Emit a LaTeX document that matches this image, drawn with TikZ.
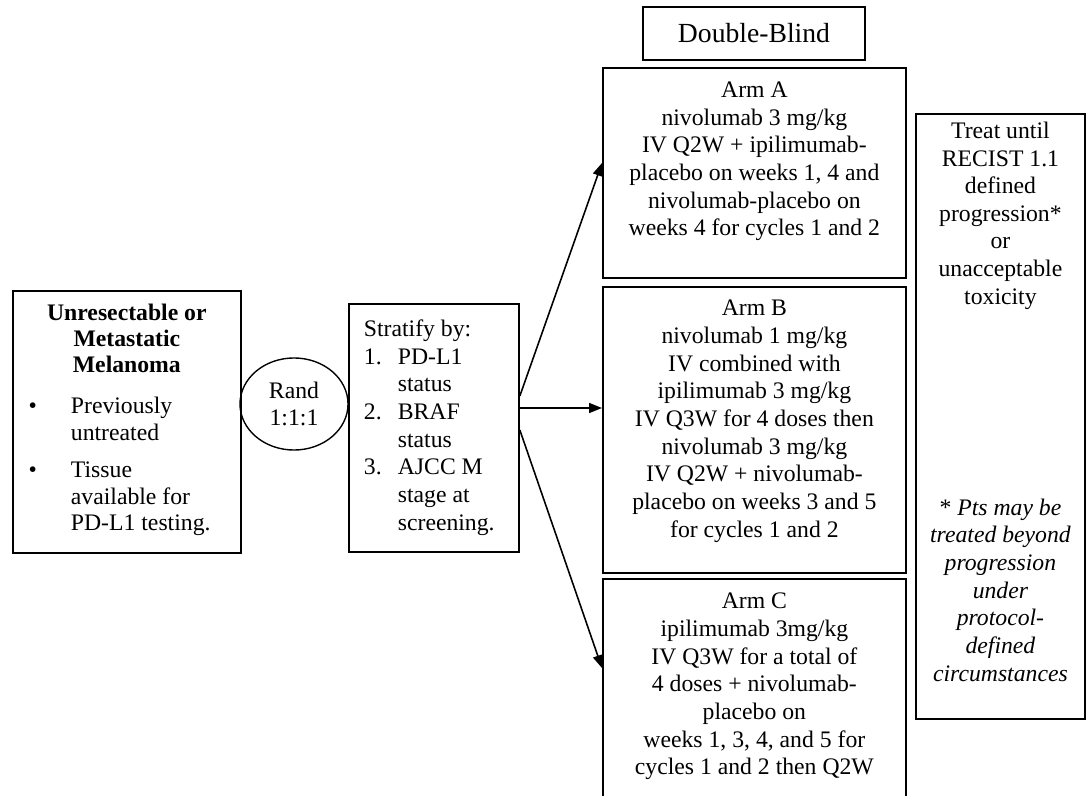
\documentclass[tikz,border=0pt]{standalone}
\usepackage{fontspec}
\setmainfont{Liberation Serif}
\usetikzlibrary{shapes.geometric, arrows.meta, positioning}

\begin{document}
\begin{tikzpicture}[
  x=0.5063pt, y=-0.5063pt,
  every node/.style={font=\fontsize{12}{14}\selectfont},
  frame/.style={draw, line width=0.9pt, anchor=north west, inner sep=0pt},
  arr/.style={line width=0.8pt, -{Triangle[length=6.5pt, width=5pt]}}
]
  \useasboundingbox (0,0) rectangle (1086,796);

  % patients, randomisation, stratification
  \node[frame, font=\fontsize{12}{13.3}\selectfont] (pop) at (12,290) {\parbox[t][132.7pt][t]{115.4pt}{\centering
    \rule{0pt}{14.9pt}\textbf{Unresectable or}\\ \textbf{Metastatic}\\ \textbf{Melanoma}\par
    \vspace{7.5pt}\raggedright
    \hspace*{8pt}\makebox[21.4pt][l]{\textbullet}Previously\\ \hspace*{29.4pt}untreated\par
    \vspace{5.7pt}
    \hspace*{8pt}\makebox[21.4pt][l]{\textbullet}Tissue\\ \hspace*{29.4pt}available for\\ \hspace*{29.4pt}PD-L1 testing.}};
  \node[draw, ellipse, line width=0.7pt, minimum width=54.7pt, minimum height=46.6pt, inner sep=0pt, align=center,
    font=\fontsize{12}{13.5}\selectfont] (rand) at (294,404) {Rand\\ 1:1:1};
  \node[frame] (strat) at (348,303) {\parbox[t][125.6pt][t]{86.1pt}{\raggedright\leftskip=7.6pt
    \rule{0pt}{16.5pt}Stratify by:\\
    \makebox[17.2pt][l]{1.}PD-L1\\ \hspace*{17.2pt}status\\
    \makebox[17.2pt][l]{2.}BRAF\\ \hspace*{17.2pt}status\\
    \makebox[17.2pt][l]{3.}AJCC M\\ \hspace*{17.2pt}stage at\\ \hspace*{17.2pt}screening.}};

  % treatment arms
  \node[draw, line width=0.9pt, minimum width=112.4pt, minimum height=26.8pt, inner sep=0pt,
    font=\fontsize{14}{16}\selectfont] (blind) at (754,33.5) {Double-Blind};
  \node[frame] (armA) at (602,67) {\parbox[t][106.3pt][t]{153.4pt}{\centering
    \rule{0pt}{15pt}Arm A\\ nivolumab 3 mg/kg\\ IV Q2W + ipilimumab-\\ placebo on weeks 1, 4 and\\
    nivolumab-placebo on\\ weeks 4 for cycles 1 and 2}};
  \node[frame] (armB) at (602,286) {\parbox[t][144.8pt][t]{153.4pt}{\centering
    \rule{0pt}{14.7pt}Arm B\\ nivolumab 1 mg/kg\\ IV combined with\\ ipilimumab 3 mg/kg\\
    IV Q3W for 4 doses then\\ nivolumab 3 mg/kg\\ IV Q2W + nivolumab-\\ placebo on weeks 3 and 5\\
    for cycles 1 and 2}};
  \node[frame] (armC) at (602,578) {\parbox[t][121.5pt][t]{153.4pt}{\centering
    \rule{0pt}{15.2pt}Arm C\\ ipilimumab 3mg/kg\\ IV Q3W for a total of\\ 4 doses + nivolumab-\\
    placebo on\\ weeks 1, 3, 4, and 5 for\\ cycles 1 and 2 then Q2W}};

  % treatment duration
  \node[frame] (treat) at (915,113) {\parbox[t][306.3pt][t]{85.6pt}{\centering
    \rule{0pt}{12.4pt}Treat until\\ RECIST 1.1\\ defined\\ progression*\\ or\\ unacceptable\\ toxicity\par
    \vspace{92.8pt}
    * {\itshape Pts may be\\ treated beyond\\ progression\\ under\\ protocol-\\ defined\\ circumstances}}};

  % randomisation arrows
  \draw[arr] (strat.east |- 0,396) -- (armA.west |- 0,163);
  \draw[arr] (strat.east |- 0,408) -- (armB.west |- 0,408);
  \draw[arr] (strat.east |- 0,430) -- (armC.west |- 0,668);
\end{tikzpicture}
\end{document}
